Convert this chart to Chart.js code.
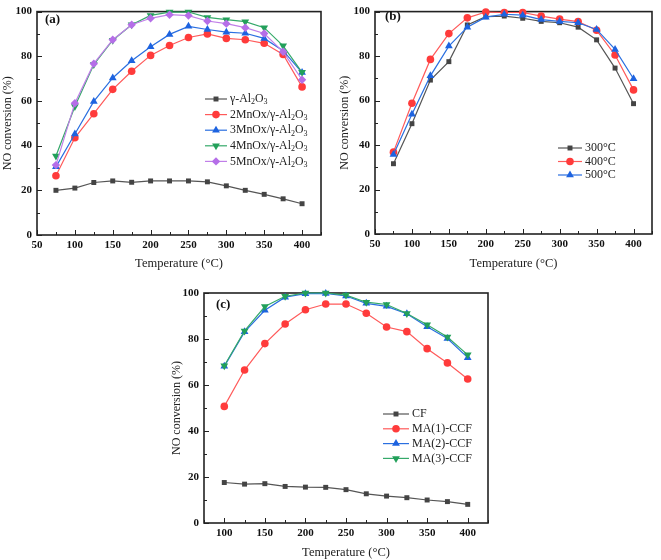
<!DOCTYPE html>
<html>
<head>
<meta charset="utf-8">
<script src="https://cdn.jsdelivr.net/npm/chart.js@4.4.0/dist/chart.umd.min.js"></script>
<style>
  body { margin: 0; background: #fff; }
  canvas { position: absolute; }
</style>
</head>
<body>
<canvas id="chartA" width="330" height="280" style="left:0;top:0"></canvas>
<canvas id="chartB" width="331" height="280" style="left:330px;top:0"></canvas>
<canvas id="chartC" width="360" height="280" style="left:150px;top:280px"></canvas>
<script>
// temperatures (°C)
const tempsAB = [75, 100, 125, 150, 175, 200, 225, 250, 275, 300, 325, 350, 375, 400];
const tempsC = [100, 125, 150, 175, 200, 225, 250, 275, 300, 325, 350, 375, 400];

// (a) MnOx loading on γ-Al2O3
const aAl2O3 = [20, 21, 23.5, 24.2, 23.6, 24.2, 24.2, 24.2, 23.8, 22, 20, 18.2, 16.2, 14];
const aMn2 = [26.5, 43.5, 54.3, 65.2, 73.3, 80.4, 84.8, 88.4, 90, 88, 87.4, 85.8, 80.8, 66.3];
const aMn3 = [30.5, 45.2, 59.8, 70.3, 78, 84.3, 89.8, 93.4, 92, 90.8, 90.3, 88, 82.5, 72.7];
const aMn4 = [35.4, 57.5, 76.3, 87.2, 94.1, 98.3, 99.8, 99.8, 97.4, 96.4, 95.5, 92.8, 84.7, 72.8];
const aMn5 = [31.3, 59, 76.7, 87.4, 94.1, 97, 98.6, 98.2, 95.8, 94.6, 92.8, 90.2, 82, 69.5];

// (b) calcination temperature
const b300 = [31.6, 49.6, 69.2, 77.5, 94, 97.7, 98, 97, 95.6, 95, 93, 87.3, 74.6, 58.6];
const b400 = [36.8, 58.8, 78.5, 90.1, 97.2, 99.8, 99.6, 99.6, 98, 96.6, 95.5, 91.6, 80.5, 64.8];
const b500 = [35.8, 53.8, 71.1, 84.5, 93, 97.5, 98.8, 98.4, 96.4, 95.6, 95, 92, 83, 69.8];

// (c) ceramic filters
const cCF = [17.6, 16.9, 17.1, 15.9, 15.6, 15.5, 14.5, 12.7, 11.7, 11, 10, 9.3, 8.1];
const cMA1 = [50.7, 66.5, 78, 86.5, 92.7, 95.2, 95.2, 91.2, 85.2, 83.2, 75.8, 69.6, 62.6];
const cMA2 = [68.1, 83.1, 92.5, 98.2, 99.7, 99.8, 98.7, 95.5, 94.2, 91, 85.3, 80.2, 71.9];
const cMA3 = [68.4, 83.5, 94.1, 98.6, 100, 100, 99.1, 96, 95, 91.1, 86.2, 80.9, 73.1];

const SERIF = '"Liberation Serif", "Times New Roman", serif';

const styles = {
  gray:   { line: '#555555', fill: '#444444', shape: 'rect', rot: 0, r: 3.5 },
  red:    { line: '#ff5a5a', fill: '#ff3b3b', shape: 'circle', rot: 0, r: 3.8 },
  blue:   { line: '#2a6fe0', fill: '#1d63e0', shape: 'triangle', rot: 0, r: 4.5 },
  green:  { line: '#35a96a', fill: '#22a05a', shape: 'triangle', rot: 180, r: 4.5 },
  purple: { line: '#c07fe8', fill: '#b56ee8', shape: 'rectRot', rot: 0, r: 4.2 }
};

function series(label, xs, ys, st, n, i) {
  return {
    label: label,
    data: xs.map((x, k) => ({ x: x, y: ys[k] })),
    borderColor: st.line,
    backgroundColor: st.fill,
    borderWidth: 1.2,
    pointStyle: st.shape,
    pointRotation: st.rot,
    pointRadius: st.r,
    pointBorderWidth: 0,
    pointBackgroundColor: st.fill,
    pointBorderColor: st.fill,
    tension: 0,
    clip: false,
    order: n - i
  };
}

// text with "_2" style subscripts
function drawRich(ctx, text, x, y, size) {
  const parts = text.split(/(_\d)/);
  parts.forEach(p => {
    if (!p) return;
    if (p[0] === '_') {
      ctx.font = (size * 0.68) + 'px ' + SERIF;
      ctx.fillText(p[1], x, y + size * 0.28);
      x += ctx.measureText(p[1]).width;
    } else {
      ctx.font = size + 'px ' + SERIF;
      ctx.fillText(p, x, y);
      x += ctx.measureText(p).width;
    }
  });
}

const frameTicks = {
  id: 'frameTicks',
  beforeDatasetsDraw(chart) {
    const { ctx, chartArea: a, scales } = chart;
    ctx.save();
    ctx.strokeStyle = '#222';
    ctx.lineWidth = 1;
    ctx.beginPath();
    scales.x.ticks.forEach(t => {
      const px = Math.round(scales.x.getPixelForValue(t.value)) + 0.5;
      const len = t.value % 50 === 0 ? 5 : 3;
      ctx.moveTo(px, a.bottom);
      ctx.lineTo(px, a.bottom - len);
    });
    scales.y.ticks.forEach(t => {
      const py = Math.round(scales.y.getPixelForValue(t.value)) + 0.5;
      const len = t.value % 20 === 0 ? 5 : 3;
      ctx.moveTo(a.left, py);
      ctx.lineTo(a.left + len, py);
    });
    ctx.stroke();
    ctx.lineWidth = 1.6;
    ctx.strokeRect(a.left, a.top, a.right - a.left, a.bottom - a.top);
    ctx.restore();
  }
};

const markLegend = {
  id: 'markLegend',
  afterDraw(chart, args, opts) {
    const ctx = chart.ctx;
    ctx.save();
    ctx.textBaseline = 'middle';
    ctx.fillStyle = '#111';
    ctx.font = 'bold 13px ' + SERIF;
    ctx.fillText(opts.panel, opts.px, opts.py);
    chart.data.datasets.forEach((ds, i) => {
      const y = opts.y + i * opts.rowH;
      ctx.strokeStyle = ds.borderColor;
      ctx.lineWidth = 1.2;
      ctx.beginPath();
      ctx.moveTo(opts.x, y);
      ctx.lineTo(opts.x + opts.len, y);
      ctx.stroke();
      ctx.fillStyle = ds.pointBackgroundColor;
      Chart.helpers.drawPoint(ctx, {
        pointStyle: ds.pointStyle,
        rotation: ds.pointRotation,
        radius: ds.pointRadius,
        borderWidth: 0
      }, opts.x + opts.len / 2, y);
      ctx.fillStyle = '#222';
      drawRich(ctx, opts.labels[i], opts.x + opts.len + 3, y, opts.size);
    });
    ctx.restore();
  }
};

function makeChart(id, datasets, labels, cfg) {
  const cv = document.getElementById(id);
  const W = cv.width, H = cv.height;
  return new Chart(cv, {
    type: 'line',
    data: { datasets: datasets },
    plugins: [frameTicks, markLegend],
    options: {
      responsive: false,
      animation: false,
      events: [],
      layout: { padding: { left: 0, top: cfg.area.top, right: W - cfg.area.right, bottom: 0 } },
      scales: {
        x: {
          type: 'linear',
          min: cfg.xmin, max: cfg.xmax,
          grid: { display: false, drawTicks: false },
          border: { display: false },
          afterFit: s => { s.height = H - cfg.area.bottom; },
          ticks: {
            stepSize: 25,
            padding: 4,
            maxRotation: 0,
            autoSkip: false,
            color: '#111',
            font: { family: SERIF, size: 11, weight: 'bold' },
            callback: v => (v % 50 === 0 && v <= 400) ? v : ''
          },
          title: {
            display: true,
            text: 'Temperature (°C)',
            color: '#222',
            font: { family: SERIF, size: 12.5 },
            padding: { top: 0, bottom: cfg.xTitlePad }
          }
        },
        y: {
          min: 0, max: 100,
          grid: { display: false, drawTicks: false },
          border: { display: false },
          afterFit: s => { s.width = cfg.area.left; },
          ticks: {
            stepSize: 10,
            padding: cfg.yTickPad,
            autoSkip: false,
            color: '#111',
            font: { family: SERIF, size: 11, weight: 'bold' },
            callback: v => v % 20 === 0 ? v : ''
          },
          title: {
            display: true,
            text: 'NO conversion (%)',
            color: '#222',
            font: { family: SERIF, size: 12 },
            padding: { top: cfg.yTitlePad, bottom: 0 }
          }
        }
      },
      plugins: {
        legend: { display: false },
        tooltip: { enabled: false },
        markLegend: Object.assign({ labels: labels }, cfg.legend)
      }
    }
  });
}

const labelsA = ['γ-Al_2O_3', '2MnOx/γ-Al_2O_3', '3MnOx/γ-Al_2O_3', '4MnOx/γ-Al_2O_3', '5MnOx/γ-Al_2O_3'];
const setA = [aAl2O3, aMn2, aMn3, aMn4, aMn5];
const styA = [styles.gray, styles.red, styles.blue, styles.green, styles.purple];
makeChart('chartA', setA.map((ys, i) => series(labelsA[i], tempsAB, ys, styA[i], setA.length, i)), labelsA, {
  area: { left: 37, top: 7, right: 321, bottom: 235 },
  xmin: 50, xmax: 425, xTitlePad: 9, yTickPad: 5, yTitlePad: 1,
  legend: { x: 205, y: 99, rowH: 15.6, len: 22, size: 11.8, panel: '(a)', px: 45, py: 20 }
});

const labelsB = ['300°C', '400°C', '500°C'];
const setB = [b300, b400, b500];
const styB = [styles.gray, styles.red, styles.blue];
makeChart('chartB', setB.map((ys, i) => series(labelsB[i], tempsAB, ys, styB[i], setB.length, i)), labelsB, {
  area: { left: 45, top: 5, right: 322, bottom: 234 },
  xmin: 50, xmax: 425, xTitlePad: 9, yTickPad: 5, yTitlePad: 8,
  legend: { x: 228, y: 148, rowH: 13.5, len: 24, size: 12, panel: '(b)', px: 55, py: 17 }
});

const labelsC = ['CF', 'MA(1)-CCF', 'MA(2)-CCF', 'MA(3)-CCF'];
const setC = [cCF, cMA1, cMA2, cMA3];
const styC = [styles.gray, styles.red, styles.blue, styles.green];
makeChart('chartC', setC.map((ys, i) => series(labelsC[i], tempsC, ys, styC[i], setC.length, i)), labelsC, {
  area: { left: 54, top: 13, right: 338, bottom: 243 },
  xmin: 75, xmax: 425, xTitlePad: 0, yTickPad: 5, yTitlePad: 20,
  legend: { x: 233, y: 134, rowH: 14.8, len: 26, size: 12, panel: '(c)', px: 66, py: 25 }
});
</script>
</body>
</html>
